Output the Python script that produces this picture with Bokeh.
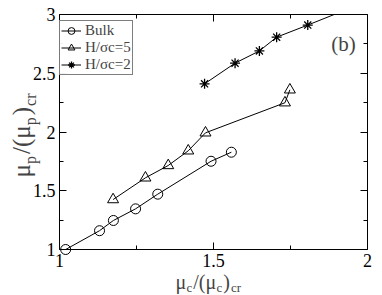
import math
from bokeh.plotting import figure
from bokeh.models import (Label, Legend, LegendItem, LinearAxis, FixedTicker, Range1d, BoxAnnotation)
from bokeh.embed import file_html
from bokeh.resources import INLINE

# ---- data ----
bulk_x = [1.02, 1.13, 1.175, 1.247, 1.319, 1.492, 1.558]
bulk_y = [1.00, 1.16, 1.247, 1.346, 1.471, 1.751, 1.828]

h5_x = [1.174, 1.279, 1.353, 1.418, 1.474, 1.732, 1.748]
h5_y = [1.425, 1.610, 1.715, 1.840, 1.993, 2.249, 2.359]

h2_x = [1.471, 1.570, 1.649, 1.705, 1.806, 1.93]
h2_y = [2.410, 2.586, 2.690, 2.807, 2.910, 3.04]

x_ticks = [1, 1.5, 2]
x_tick_labels = ["1", "1.5", "2"]
x_minor = [1.25, 1.75]
y_ticks = [1, 1.5, 2, 2.5, 3]
y_tick_labels = ["1", "1.5", "2", "2.5", "3"]
y_minor = [1.25, 1.75, 2.25, 2.75]

series_names = ["Bulk", "H/σc=5", "H/σc=2"]

# ---- layout (pixels) ----
W, H = 382, 295
BOX_L, BOX_R, BOX_T, BOX_B = 59, 367, 14, 249   # plot box in page pixels
XMIN, XMAX, YMIN, YMAX = 1, 2, 1, 3
sx = (BOX_R - BOX_L) / (XMAX - XMIN)
sy = (BOX_B - BOX_T) / (YMAX - YMIN)

FONT = "Liberation Serif"

p = figure(frame_width=W, frame_height=H,
           x_range=Range1d(XMIN - BOX_L / sx, XMAX + (W - BOX_R) / sx),
           y_range=Range1d(YMIN - (H - BOX_B) / sy, YMAX + BOX_T / sy),
           output_backend="svg", toolbar_location=None,
           x_axis_location=None, y_axis_location=None,
           min_border=0)
p.grid.visible = False
p.outline_line_color = None
p.background_fill_color = "white"
p.border_fill_color = "white"

def make_axis(ticks, labels, minor, show_labels, loc, bounds):
    ax = LinearAxis(ticker=FixedTicker(ticks=ticks, minor_ticks=minor),
                    fixed_location=loc, bounds=bounds)
    if show_labels:
        ax.major_label_overrides = {t: l for t, l in zip(ticks, labels)}
        ax.major_label_standoff = 4
    else:
        ax.major_label_overrides = {t: "" for t in ticks}
        ax.major_label_standoff = 0
    ax.major_tick_in = 7
    ax.major_tick_out = 0
    ax.minor_tick_in = 4
    ax.minor_tick_out = 0
    ax.axis_line_color = "black"
    ax.axis_line_width = 1
    ax.major_tick_line_color = "black"
    ax.minor_tick_line_color = "black"
    ax.major_label_text_font = FONT
    ax.major_label_text_color = "black"
    ax.major_label_text_font_size = "18px"
    ax.level = "overlay"
    return ax

p.add_layout(make_axis(x_ticks, x_tick_labels, x_minor, True, YMIN, (XMIN, XMAX)), "below")
p.add_layout(make_axis(y_ticks, y_tick_labels, y_minor, True, XMIN, (YMIN, YMAX)), "left")
p.add_layout(make_axis(x_ticks, x_tick_labels, x_minor, False, YMAX, (XMIN, XMAX)), "above")
p.add_layout(make_axis(y_ticks, y_tick_labels, y_minor, False, XMAX, (YMIN, YMAX)), "right")

l1 = p.line(bulk_x, bulk_y, line_color="black", line_width=1)
s1 = p.scatter(bulk_x, bulk_y, marker="circle", size=10, fill_color=None,
               line_color="black", line_width=1)
l2 = p.line(h5_x, h5_y, line_color="black", line_width=1)
s2 = p.scatter(h5_x, h5_y, marker="triangle", size=11, fill_color=None,
               line_color="black", line_width=1)
l3 = p.line(h2_x, h2_y, line_color="black", line_width=1)
s3 = p.scatter(h2_x, h2_y, marker="asterisk", size=10, fill_color=None,
               line_color="black", line_width=1.3)

# mask the part of the data that runs above the plot box
p.add_layout(BoxAnnotation(bottom=YMAX, left=XMIN, right=XMAX + 0.05,
                           fill_color="white", fill_alpha=1, line_color=None,
                           level="annotation"))

legend = Legend(items=[
    LegendItem(label=series_names[0], renderers=[l1, s1]),
    LegendItem(label=series_names[1], renderers=[l2, s2]),
    LegendItem(label=series_names[2], renderers=[l3, s3]),
], location=(BOX_L, 220))
legend.label_text_font = FONT
legend.label_text_font_size = "15px"
legend.label_standoff = 4
legend.glyph_width = 20
legend.glyph_height = 17
legend.label_height = 17
legend.spacing = 0
legend.padding = 1
legend.margin = 0
legend.border_line_color = "black"
legend.border_line_width = 1
legend.level = "overlay"
p.add_layout(legend)

# panel label
p.add_layout(Label(x=343, y=H - 43, x_units="screen", y_units="screen",
                   text="(b)", text_font=FONT, text_font_size="21px",
                   text_align="center", text_baseline="alphabetic"))

# axis titles built from pieces (main + subscripts)
def compose(parts, x0, y0, horizontal):
    pos = 0.0
    for txt, size, shift, w in parts:
        if horizontal:
            lab = Label(x=x0 + pos, y=y0 - shift, x_units="screen", y_units="screen",
                        text=txt, text_font=FONT, text_font_size=f"{size}px",
                        text_align="left", text_baseline="alphabetic")
        else:
            lab = Label(x=x0 + shift, y=y0 + pos, x_units="screen", y_units="screen",
                        text=txt, text_font=FONT, text_font_size=f"{size}px",
                        angle=math.pi / 2, text_align="left", text_baseline="alphabetic")
        p.add_layout(lab)
        pos += w

M, S = 20, 13
x_parts = [("μ", M, 0, 0.5 * M + 1), ("c", S, 6, 0.444 * S + 1),
           ("/(μ", M, 0, 1.111 * M + 1), ("c", S, 6, 0.444 * S + 1),
           (")", M, 0, 0.333 * M + 1), ("cr", S, 6, 0.777 * S)]
compose(x_parts, 175, H - 281, True)

YM, YS = 25, 16
y_parts = [("μ", YM, 0, 0.5 * YM + 1), ("p", YS, 9, 0.5 * YS + 2),
           ("/(μ", YM, 0, 1.111 * YM + 1), ("p", YS, 9, 0.5 * YS + 2),
           (")", YM, 0, 0.333 * YM + 1), ("cr", YS, 9, 0.777 * YS)]
compose(y_parts, 21, H - 177, False)

open("out.html", "w").write(file_html(p, INLINE))
